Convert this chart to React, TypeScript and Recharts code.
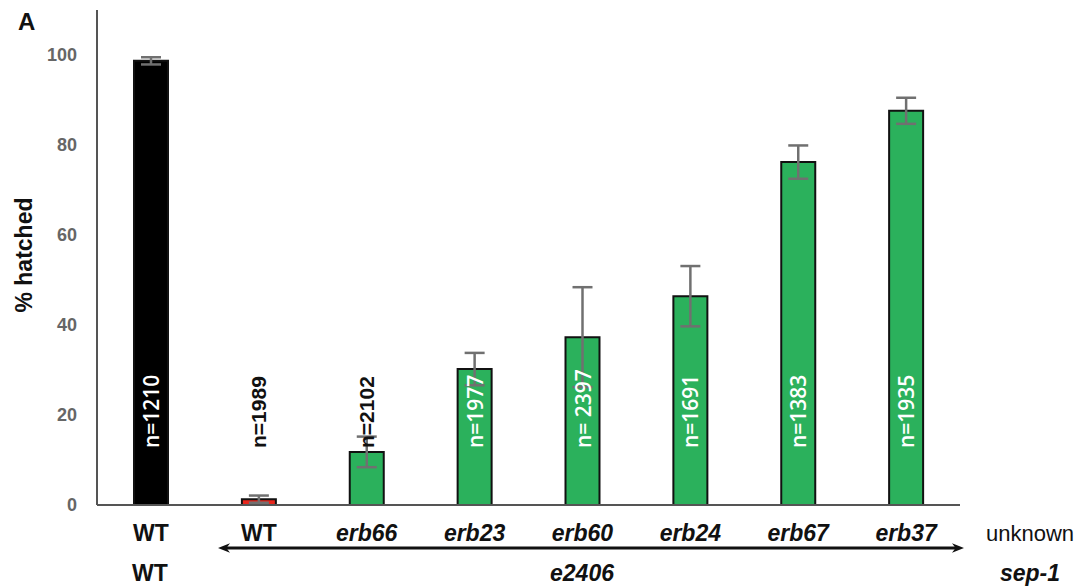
import { BarChart, Bar, XAxis, YAxis, Cell, ErrorBar, LabelList } from "recharts";

// % hatched per strain
const categories = ["WT", "WT", "erb66", "erb23", "erb60", "erb24", "erb67", "erb37"];
const hatched = [98.7, 1.3, 11.8, 30.2, 37.3, 46.4, 76.2, 87.6];
const errors = [0.8, 0.8, 3.4, 3.6, 11.1, 6.7, 3.7, 2.9];
const nLabels = ["n=1210", "n=1989", "n=2102", "n=1977", "n= 2397", "n=1691", "n=1383", "n=1935"];
const yTicks = [0, 20, 40, 60, 80, 100];

const GREEN = "#2bb15c";
const fills = ["#000000", "#e8261c", GREEN, GREEN, GREEN, GREEN, GREEN, GREEN];
const FONT = "'Liberation Sans', Arial, sans-serif";

const data = categories.map((c, i) => ({
  name: c,
  hatched: hatched[i],
  err: errors[i],
  n: nLabels[i],
}));

function XTick(props: any) {
  const { x, y, payload } = props;
  const italic = payload.value !== "WT";
  return (
    <text
      x={x}
      y={y + 20}
      textAnchor="middle"
      dominantBaseline="central"
      fontFamily={FONT}
      fontWeight="bold"
      fontStyle={italic ? "italic" : "normal"}
      fontSize={23}
      fill="#111"
    >
      {payload.value}
    </text>
  );
}

function NLabel(props: any) {
  const { x, y, width, height, value, index } = props;
  const cx = Number(x) + Number(width) / 2;
  const bottom = Number(y) + Number(height) - 57;
  // short bars: label sits above the bar in black
  const dark = hatched[index] < 14;
  return (
    <text
      x={cx}
      y={bottom}
      transform={`rotate(-90, ${cx}, ${bottom})`}
      textAnchor="start"
      dominantBaseline="central"
      fontFamily={dark ? FONT : "'Open Sans', sans-serif"}
      fontWeight={dark ? "bold" : 600}
      fontSize={21}
      fill={dark ? "#111" : "#fff"}
    >
      {value}
    </text>
  );
}

export default function App() {
  return (
    <div style={{ position: "absolute", left: 0, top: 0, width: 1081, height: 587, background: "#fff" }}>
      <BarChart
        width={1081}
        height={587}
        data={data}
        margin={{ top: 10, right: 121, bottom: 52, left: 0 }}
        barCategoryGap={0}
      >
        <XAxis
          dataKey="name"
          height={30}
          tick={<XTick />}
          tickLine={false}
          axisLine={{ stroke: "#555", strokeWidth: 2 }}
          interval={0}
        />
        <YAxis
          width={97}
          domain={[0, 110]}
          ticks={yTicks}
          tickLine={false}
          axisLine={{ stroke: "#555", strokeWidth: 2 }}
          tickMargin={14}
          tick={{ fontFamily: FONT, fontWeight: "bold", fontSize: 18, fill: "#666" }}
        />
        <Bar dataKey="hatched" barSize={34} stroke="#111" strokeWidth={2} isAnimationActive={false}>
          {data.map((d, i) => (
            <Cell key={i} fill={fills[i]} />
          ))}
          <LabelList dataKey="n" content={<NLabel />} />
          <ErrorBar dataKey="err" width={10} stroke="#707070" strokeWidth={2.5} isAnimationActive={false} />
        </Bar>
      </BarChart>
      <svg
        width={1081}
        height={587}
        style={{ position: "absolute", left: 0, top: 0, pointerEvents: "none" }}
        fontFamily={FONT}
      >
        <defs>
          <marker id="head" viewBox="0 0 10 10" refX="5" refY="5" markerWidth="4" markerHeight="4" orient="auto-start-reverse">
            <path d="M0,1 L10,5 L0,9 L3,5 Z" fill="#111" />
          </marker>
        </defs>
        <text x={18} y={30} fontWeight="bold" fontSize={24} fill="#111">A</text>
        <text
          x={24}
          y={255}
          transform="rotate(-90, 24, 255)"
          textAnchor="middle"
          dominantBaseline="central"
          fontWeight="bold"
          fontSize={23}
          fill="#111"
        >
          % hatched
        </text>
        <text x={1030} y={533} textAnchor="middle" dominantBaseline="central" fontSize={22} fill="#111">
          unknown
        </text>
        <line x1={224} y1={548} x2={958} y2={548} stroke="#111" strokeWidth={3} markerStart="url(#head)" markerEnd="url(#head)" />
        <text x={150} y={573} textAnchor="middle" dominantBaseline="central" fontWeight="bold" fontSize={23} fill="#111">
          WT
        </text>
        <text x={582} y={573} textAnchor="middle" dominantBaseline="central" fontWeight="bold" fontStyle="italic" fontSize={23} fill="#111">
          e2406
        </text>
        <text x={1030} y={573} textAnchor="middle" dominantBaseline="central" fontWeight="bold" fontStyle="italic" fontSize={23} fill="#111">
          sep-1
        </text>
      </svg>
    </div>
  );
}
